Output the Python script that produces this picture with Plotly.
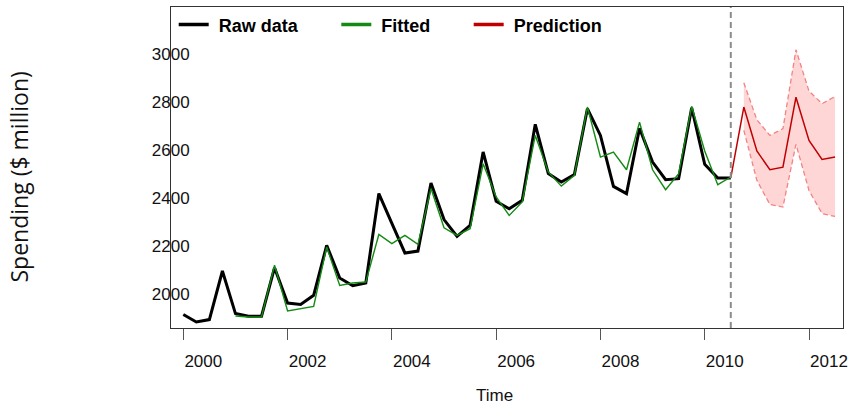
import plotly.graph_objects as go

# ---------------- data ----------------
raw_time = [2000.0, 2000.25, 2000.5, 2000.75, 2001.0, 2001.25, 2001.5, 2001.75,
            2002.0, 2002.25, 2002.5, 2002.75, 2003.0, 2003.25, 2003.5, 2003.75,
            2004.0, 2004.25, 2004.5, 2004.75, 2005.0, 2005.25, 2005.5, 2005.75,
            2006.0, 2006.25, 2006.5, 2006.75, 2007.0, 2007.25, 2007.5, 2007.75,
            2008.0, 2008.25, 2008.5, 2008.75, 2009.0, 2009.25, 2009.5, 2009.75,
            2010.0, 2010.25, 2010.5]
raw_values = [1916, 1885, 1895, 2097, 1920, 1909, 1909, 2111,
              1964, 1958, 1996, 2204, 2068, 2036, 2047, 2419,
              2295, 2172, 2180, 2463, 2311, 2241, 2287, 2592,
              2387, 2356, 2391, 2707, 2502, 2467, 2498, 2772,
              2661, 2449, 2419, 2691, 2550, 2477, 2481, 2776,
              2541, 2484, 2484]

fit_time = raw_time[4:]
fit_values = [1910, 1906, 1906, 2121,
              1931, 1941, 1950, 2197, 2037, 2047, 2051, 2249,
              2211, 2245, 2208, 2440, 2277, 2245, 2273, 2543,
              2405, 2328, 2384, 2661, 2509, 2450, 2495, 2779,
              2571, 2592, 2518, 2716, 2518, 2435, 2502, 2782,
              2596, 2456, 2488]

pred_time = [2010.75, 2011.0, 2011.25, 2011.5, 2011.75, 2012.0, 2012.25, 2012.5]
pred_values = [2779, 2596, 2518, 2529, 2820, 2640, 2561, 2571]
pred_upper = [2880, 2726, 2661, 2689, 3017, 2845, 2793, 2823]
pred_lower = [2682, 2474, 2374, 2363, 2624, 2432, 2336, 2324]

forecast_origin = 2010.5

x_tick_vals = [2000, 2002, 2004, 2006, 2008, 2010, 2012]
x_tick_text = ["2000", "2002", "2004", "2006", "2008", "2010", "2012"]
y_tick_vals = [2000, 2200, 2400, 2600, 2800, 3000]
y_tick_text = ["2000", "2200", "2400", "2600", "2800", "3000"]

series_names = ["Raw data", "Fitted", "Prediction"]

# ---------------- styles ----------------
BLACK = "#000000"
GREEN = "#138a13"
RED = "#c00000"
BAND_FILL = "rgb(255,214,214)"
BAND_LINE = "rgb(245,130,130)"
TICK_FONT = dict(family="Liberation Sans, Arial, sans-serif", size=17, color="#111111")

fig = go.Figure()

# prediction band
fig.add_trace(go.Scatter(x=pred_time, y=pred_upper, mode="lines",
                         line=dict(color=BAND_LINE, width=1.3, dash="5px,3px"),
                         showlegend=False, hoverinfo="skip"))
fig.add_trace(go.Scatter(x=pred_time, y=pred_lower, mode="lines", fill="tonexty",
                         fillcolor=BAND_FILL,
                         line=dict(color=BAND_LINE, width=1.3, dash="5px,3px"),
                         showlegend=False, hoverinfo="skip"))

# raw data
fig.add_trace(go.Scatter(x=raw_time, y=raw_values, mode="lines",
                         line=dict(color=BLACK, width=3), showlegend=False))
# fitted
fig.add_trace(go.Scatter(x=fit_time, y=fit_values, mode="lines",
                         line=dict(color=GREEN, width=1.4), showlegend=False))
# prediction (joined to last observation)
fig.add_trace(go.Scatter(x=[raw_time[-1]] + pred_time, y=[raw_values[-1]] + pred_values,
                         mode="lines", line=dict(color=RED, width=1.5), showlegend=False))

# legend-only entries (thick keys), each in its own legend
leg_colors = [BLACK, GREEN, RED]
leg_ids = ["legend", "legend2", "legend3"]
for name, col, lid in zip(series_names, leg_colors, leg_ids):
    fig.add_trace(go.Scatter(x=[None], y=[None], mode="lines", name="\u00a0" + name,
                             line=dict(color=col, width=3.5), legend=lid))

# vertical dashed line at forecast origin
fig.add_shape(type="line", xref="x", yref="paper", x0=forecast_origin, x1=forecast_origin,
              y0=0, y1=1, line=dict(color="#8c8c8c", width=2, dash="6px,4px"))

leg_font = dict(family="Liberation Sans, Arial, sans-serif", size=18, color="#000000", weight="bold")
leg_common = dict(orientation="h", xanchor="left", yanchor="top", y=1.002,
                  bgcolor="rgba(0,0,0,0)", borderwidth=0, font=leg_font, itemwidth=30)

fig.update_layout(
    width=853, height=405,
    margin=dict(l=171, r=5, t=7, b=77),
    paper_bgcolor="white", plot_bgcolor="white",
    showlegend=True,
    legend=dict(x=0.004, **leg_common),
    legend2=dict(x=0.246, **leg_common),
    legend3=dict(x=0.443, **leg_common),
    xaxis=dict(range=[1999.764, 2012.652], tickvals=x_tick_vals, ticktext=x_tick_text,
               ticks="outside", ticklen=11, tickwidth=1, tickcolor="#555555",
               showline=True, mirror=True, linecolor="#333333", linewidth=1,
               showgrid=False, zeroline=False, tickfont=TICK_FONT,
               ticklabelshift=20, ticklabelstandoff=7),
    yaxis=dict(range=[1860, 3195], tickvals=y_tick_vals, ticktext=y_tick_text,
               ticks="", showline=True, mirror=True, linecolor="#333333", linewidth=1,
               showgrid=False, zeroline=False, tickfont=TICK_FONT,
               ticklabelstandoff=-23),
)

fig.add_annotation(text="Time", xref="paper", yref="paper", x=0.4815, y=0,
                   yshift=-67, showarrow=False, xanchor="center", yanchor="middle",
                   font=dict(family="Liberation Sans, Arial, sans-serif", size=17, color="#111111"))
fig.add_annotation(text="Spending ($ million)", xref="paper", yref="paper", x=0, y=0.5,
                   xshift=-153, yshift=(167 - 177), textangle=-90, showarrow=False,
                   xanchor="center", yanchor="middle",
                   font=dict(family="Open Sans, Noto Sans, sans-serif", size=23, color="#111111"))

fig.write_html("out.html")
